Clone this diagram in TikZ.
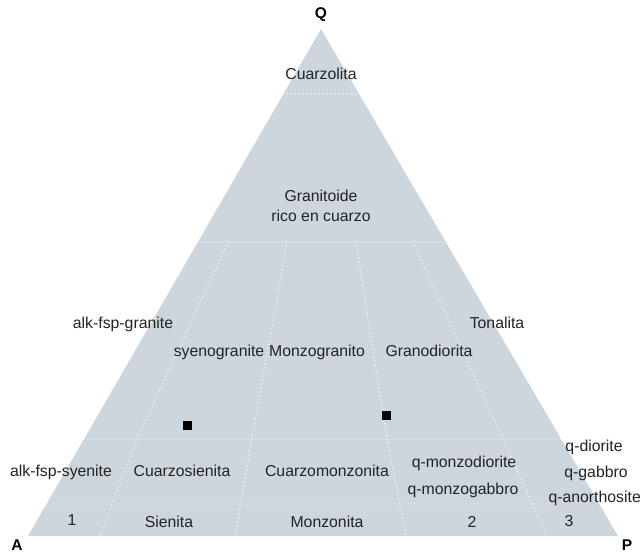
\documentclass[tikz,border=0pt]{standalone}
\usepackage{fontspec}
\setmainfont{Liberation Sans}
\usetikzlibrary{calc}
\definecolor{fillgrey}{RGB}{205,214,221}
\definecolor{txt}{RGB}{35,35,35}
\begin{document}
\begin{tikzpicture}[x=1pt,y=-1pt,
  lbl/.style={font=\fontsize{15.8}{20}\selectfont, text=txt, inner sep=0pt, text height=11pt, text depth=3pt},
  vtx/.style={font=\bfseries\fontsize{15.5}{17}\selectfont, inner sep=0pt, text height=11pt, text depth=0pt},
  bnd/.style={white, line width=1.4pt, dash pattern=on 0pt off 4pt, line cap=round},
  mark sq/.style={fill=black, minimum size=9pt, inner sep=0pt}]
\path[use as bounding box] (0,0) rectangle (642,555);
\coordinate (Qv) at (321,29);
\coordinate (Av) at (28,536);
\coordinate (Pv) at (618,536);
\fill[fillgrey] (Qv) -- (Av) -- (Pv) -- cycle;
% horizontal boundaries
\coordinate (h1l) at ($(Qv)!0.1282!(Av)$);
\coordinate (h1r) at ($(Qv)!0.1282!(Pv)$);
\coordinate (h2l) at ($(Qv)!0.4201!(Av)$);
\coordinate (h2r) at ($(Qv)!0.4201!(Pv)$);
\coordinate (h3l) at ($(Qv)!0.8087!(Av)$);
\coordinate (h3r) at ($(Qv)!0.8087!(Pv)$);
\coordinate (h4l) at ($(Qv)!0.9369!(Av)$);
\coordinate (h4r) at (556,504);
\draw[bnd] (h1l) -- (h1r);
\draw[bnd] (h2l) -- (h2r);
\draw[bnd] (h3l) -- (h3r);
\draw[bnd] (h4l) -- (h4r);
% radial boundaries
\coordinate (a1) at (228,242); \coordinate (a2) at (137,439); \coordinate (a3) at (100,536);
\coordinate (b1) at (287,242); \coordinate (b2) at (252,439); \coordinate (b3) at (235,536);
\coordinate (c1) at (356,242); \coordinate (c2) at (387,439); \coordinate (c3) at (406,536);
\coordinate (d1) at (413,242); \coordinate (d3) at (547,536);
\draw[bnd] (a1) -- (a2) -- (a3);
\draw[bnd] (b1) -- (b2) -- (b3);
\draw[bnd] (c1) -- (c2) -- (c3);
\draw[bnd] (d1) -- (d3);
% vertex labels
\node[vtx] (Q) at (321,13) {Q};
\node[vtx] (A) at (17,545) {A};
\node[vtx] (P) at (627,545) {P};
% field labels
\node[lbl] (cuarzolita) at (321,75) {Cuarzolita};
\node[lbl, align=center] (granitoide) at (321,217) {Granitoide\\rico en cuarzo};
\node[lbl] (alkgr) at (123,324) {alk-fsp-granite};
\node[lbl] (syeno) at (219,352) {syenogranite};
\node[lbl] (monzogr) at (317,352) {Monzogranito};
\node[lbl] (granod) at (429,352) {Granodiorita};
\node[lbl] (tonal) at (497,324) {Tonalita};
\node[lbl] (alksy) at (61,472) {alk-fsp-syenite};
\node[lbl] (cuarzosi) at (182,472) {Cuarzosienita};
\node[lbl] (cuarzomo) at (327,472) {Cuarzomonzonita};
\node[lbl] (qmd) at (464,463) {q-monzodiorite};
\node[lbl] (qmg) at (463,490) {q-monzogabbro};
\node[lbl] (qdi) at (594,447) {q-diorite};
\node[lbl] (qga) at (596,473) {q-gabbro};
\node[lbl, anchor=east] (qan) at (641,498) {q-anorthosite};
\node[lbl] (f1) at (72,521) {1};
\node[lbl] (sien) at (169,523) {Sienita};
\node[lbl] (monz) at (327,523) {Monzonita};
\node[lbl] (f2) at (472,523) {2};
\node[lbl] (f3) at (569,522) {3};
% sample points
\node[mark sq] (s1) at (187,425) {};
\node[mark sq] (s2) at (386,415) {};
\end{tikzpicture}
\end{document}
